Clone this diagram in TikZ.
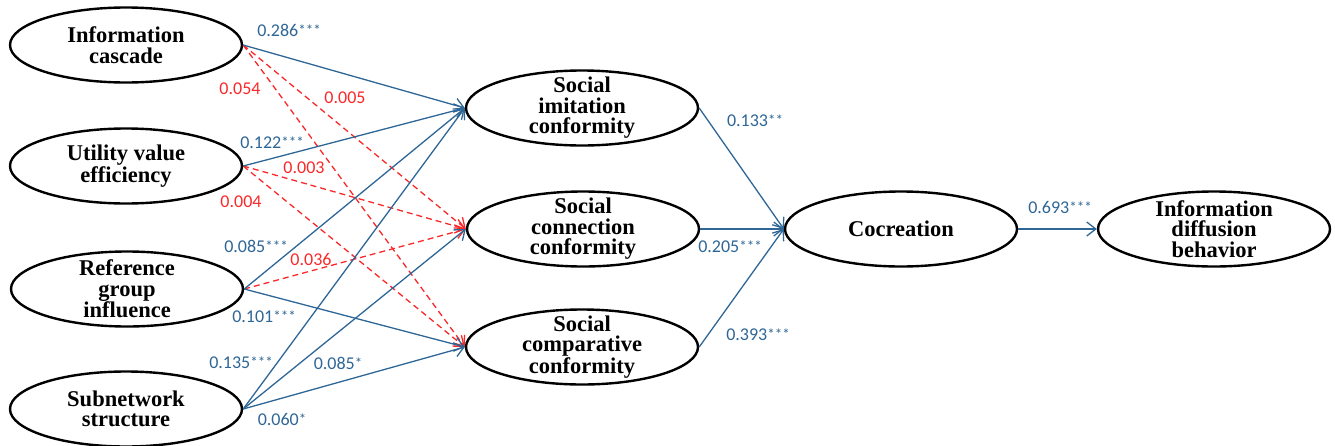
\documentclass[tikz,border=0pt]{standalone}
\usepackage{fontspec}
\setmainfont{Liberation Serif}
\newfontfamily\labfont{Carlito}
\usetikzlibrary{shapes.geometric,arrows.meta}
\definecolor{pathblue}{RGB}{46,102,150}
\definecolor{pathred}{RGB}{250,40,40}
\newcommand\sigstars[1]{\raisebox{0.8pt}{\fontsize{15}{15}\selectfont #1}}
\tikzset{
  ell/.style={draw=black, line width=2.4pt, ellipse, minimum width=232pt, minimum height=75pt, inner sep=0pt},
  txt/.style={align=center, font=\fontsize{22.5}{20.5}\selectfont\bfseries, inner sep=0pt},
  sig/.style={draw=pathblue, line width=1.3pt, -{Straight Barb[length=9pt,width=14pt,line width=1.3pt]}},
  nsig/.style={draw=pathred, line width=1.3pt, dash pattern=on 6pt off 4pt, -{Straight Barb[length=9pt,width=14pt,line width=1.3pt]}},
  bl/.style={text=pathblue, font=\labfont\fontsize{18}{18}\selectfont, inner sep=0pt},
  rl/.style={text=pathred, font=\labfont\fontsize{18}{18}\selectfont, inner sep=0pt}
}
\begin{document}
\begin{tikzpicture}[x=1pt,y=-1pt]
\useasboundingbox (0,0) rectangle (1335,445);
% nodes
\node[ell] (ic) at (126,45) {};
\node[txt] (ict) at (ic) {Information\\cascade};
\node[ell] (uv) at (126,166) {};
\node[txt] (uvt) at (uv) {Utility value\\efficiency};
\node[ell] (rg) at (127,289) {};
\node[txt] (rgt) at (rg) {Reference\\group\\influence};
\node[ell] (sn) at (126,409) {};
\node[txt] (snt) at (sn) {Subnetwork\\structure};
\node[ell] (si) at (582,108) {};
\node[txt] (sit) at (si) {Social\\imitation\\conformity};
\node[ell] (sc) at (583,229) {};
\node[txt] (sct) at (sc) {Social\\connection\\conformity};
\node[ell] (sco) at (582,347) {};
\node[txt] (scot) at (sco) {Social\\comparative\\conformity};
\node[ell] (co) at (901,229) {};
\node[txt] (cot) at (co) {Cocreation};
\node[ell] (idb) at (1214,229) {};
\node[txt] (idbt) at (idb) {Information\\diffusion\\behavior};
% non-significant paths
\draw[nsig] (ic.east) -- (sc.west);
\draw[nsig] (ic.east) -- (sco.west);
\draw[nsig] (uv.east) -- (sc.west);
\draw[nsig] (uv.east) -- (sco.west);
\draw[nsig] (rg.east) -- (sc.west);
% significant paths
\draw[sig] (ic.east) -- (si.west);
\draw[sig] (uv.east) -- (si.west);
\draw[sig] (rg.east) -- (si.west);
\draw[sig] (rg.east) -- (sco.west);
\draw[sig] (sn.east) -- (si.west);
\draw[sig] (sn.east) -- (sc.west);
\draw[sig] (sn.east) -- (sco.west);
\draw[sig] (si.east) -- (co.west);
\draw[sig] (sc.east) -- (co.west);
\draw[sig] (sco.east) -- (co.west);
\draw[sig] (co.east) -- (idb.west);
% labels
\node[bl] (l1) at (289,30) {0.286\sigstars{***}};
\node[rl] (l2) at (240,89) {0.054};
\node[rl] (l3) at (345,98) {0.005};
\node[bl] (l4) at (272,143) {0.122\sigstars{***}};
\node[rl] (l5) at (304,168) {0.003};
\node[rl] (l6) at (241,202) {0.004};
\node[bl] (l7) at (256,246) {0.085\sigstars{***}};
\node[rl] (l8) at (311,259) {0.036};
\node[bl] (l9) at (264,317) {0.101\sigstars{***}};
\node[bl] (l10) at (241,363) {0.135\sigstars{***}};
\node[bl] (l11) at (338,363) {0.085\sigstars{*}};
\node[bl] (l12) at (282,419) {0.060\sigstars{*}};
\node[bl] (l13) at (755,121) {0.133\sigstars{**}};
\node[bl] (l14) at (730,247) {0.205\sigstars{***}};
\node[bl] (l15) at (758,335) {0.393\sigstars{***}};
\node[bl] (l16) at (1060,207) {0.693\sigstars{***}};
\end{tikzpicture}
\end{document}
